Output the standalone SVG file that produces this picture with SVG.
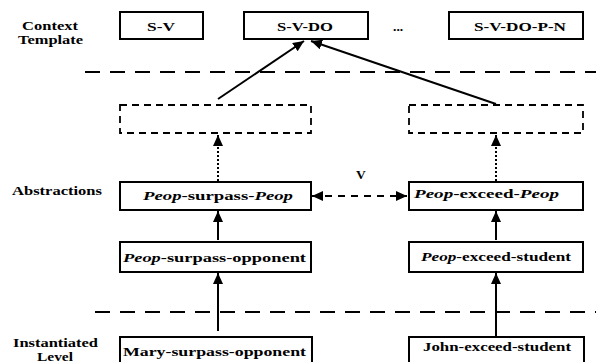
<svg xmlns="http://www.w3.org/2000/svg" width="596" height="362" viewBox="0 0 596 362">
<style>
text{font-family:"Liberation Serif","Times New Roman",serif;font-weight:bold;font-size:13.5px;fill:#000}
.i{font-style:italic}
.box{fill:#fff;stroke:#000;stroke-width:2}
.dbox{fill:#fff;stroke:#000;stroke-width:1.8;stroke-dasharray:7 5}
.sep{fill:none;stroke:#000;stroke-width:2;stroke-dasharray:15 10}
.ln{fill:none;stroke:#000;stroke-width:2}
.dot{fill:none;stroke:#000;stroke-width:2;stroke-dasharray:2 2}
.dsh{fill:none;stroke:#000;stroke-width:2;stroke-dasharray:7 6}
</style>
<defs>
<marker id="ah" markerUnits="userSpaceOnUse" markerWidth="12" markerHeight="10" refX="11" refY="5" orient="auto-start-reverse">
<path d="M0,0 L11,5 L0,10 Z" fill="#000"/>
</marker>
</defs>
<rect width="596" height="362" fill="#fff"/>
<g id="labels">
<text x="22" y="30" textLength="56" lengthAdjust="spacingAndGlyphs">Context</text>
<text x="18" y="44" textLength="65" lengthAdjust="spacingAndGlyphs">Template</text>
<text x="12" y="195" textLength="90" lengthAdjust="spacingAndGlyphs">Abstractions</text>
<text x="13" y="347" textLength="85" lengthAdjust="spacingAndGlyphs">Instantiated</text>
<text x="37" y="360.5" textLength="36" lengthAdjust="spacingAndGlyphs" style="font-size:12.5px">Level</text>
<text x="393" y="31">...</text>
<text x="356" y="179">V</text>
</g>
<g id="separators">
<line class="sep" x1="85" y1="72" x2="596" y2="72"/>
<line class="sep" x1="95" y1="312" x2="596" y2="312"/>
</g>
<g id="connectors">
<line class="ln" x1="218" y1="99" x2="304" y2="41" marker-end="url(#ah)"/>
<line class="ln" x1="496" y1="104" x2="311" y2="41" marker-end="url(#ah)"/>
<line class="dot" x1="218" y1="181" x2="218" y2="135" marker-end="url(#ah)"/>
<line class="dot" x1="496" y1="181" x2="496" y2="135" marker-end="url(#ah)"/>
<line class="dsh" x1="312" y1="196" x2="407" y2="196" marker-start="url(#ah)" marker-end="url(#ah)"/>
<line class="ln" x1="218" y1="240" x2="218" y2="211" marker-end="url(#ah)"/>
<line class="ln" x1="496" y1="240" x2="496" y2="211" marker-end="url(#ah)"/>
<line class="ln" x1="218" y1="331" x2="218" y2="273" marker-end="url(#ah)"/>
<line class="ln" x1="496" y1="336" x2="496" y2="273" marker-end="url(#ah)"/>
</g>
<g id="n-sv">
<rect class="box" x="120" y="12" width="83" height="27"/>
<text x="147" y="31" textLength="28" lengthAdjust="spacingAndGlyphs">S-V</text>
</g>
<g id="n-svdo">
<rect class="box" x="244" y="12" width="124" height="27"/>
<text x="277" y="31" textLength="56" lengthAdjust="spacingAndGlyphs">S-V-DO</text>
</g>
<g id="n-svdopn">
<rect class="box" x="449" y="12" width="134" height="27"/>
<text x="474" y="31" textLength="92" lengthAdjust="spacingAndGlyphs">S-V-DO-P-N</text>
</g>
<g id="n-dash-left">
<rect class="dbox" x="120" y="105" width="191" height="28"/>
</g>
<g id="n-dash-right">
<rect class="dbox" x="409" y="105" width="174" height="28"/>
</g>
<g id="n-peop-surpass-peop">
<rect class="box" x="120" y="182" width="191" height="28"/>
<text x="143" y="200" textLength="150" lengthAdjust="spacingAndGlyphs"><tspan class="i">Peop</tspan>-surpass-<tspan class="i">Peop</tspan></text>
</g>
<g id="n-peop-exceed-peop">
<rect class="box" x="409" y="182" width="174" height="28"/>
<text x="414" y="198" textLength="145" lengthAdjust="spacingAndGlyphs"><tspan class="i">Peop</tspan>-exceed-<tspan class="i">Peop</tspan></text>
</g>
<g id="n-peop-surpass-opponent">
<rect class="box" x="120" y="242" width="191" height="30"/>
<text x="123" y="262" textLength="183" lengthAdjust="spacingAndGlyphs"><tspan class="i">Peop</tspan>-surpass-opponent</text>
</g>
<g id="n-peop-exceed-student">
<rect class="box" x="409" y="242" width="174" height="30"/>
<text x="421" y="261" textLength="150" lengthAdjust="spacingAndGlyphs"><tspan class="i">Peop</tspan>-exceed-student</text>
</g>
<g id="n-mary">
<rect class="box" x="120" y="337" width="192" height="40"/>
<text x="123" y="356" textLength="183" lengthAdjust="spacingAndGlyphs">Mary-surpass-opponent</text>
</g>
<g id="n-john">
<rect class="box" x="409" y="337" width="175" height="40"/>
<text x="423" y="351" textLength="148" lengthAdjust="spacingAndGlyphs">John-exceed-student</text>
</g>
</svg>
